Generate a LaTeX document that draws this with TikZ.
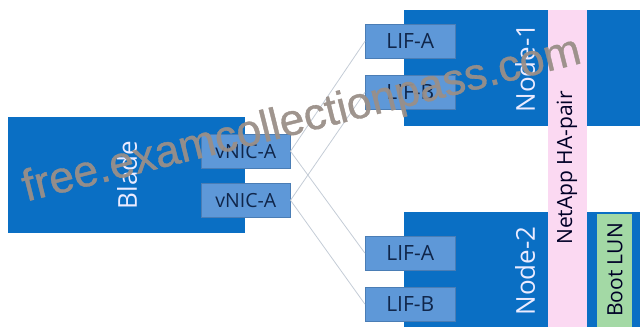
\documentclass[tikz,border=0pt]{standalone}
\usepackage{fontspec}
\setmainfont{Open Sans}
\newfontfamily\wmfont[FakeBold=0.8]{Liberation Sans}
\definecolor{bladeblue}{HTML}{0A6FC4}
\definecolor{lifblue}{HTML}{5E98D8}
\definecolor{lifedge}{HTML}{4A7DB5}
\definecolor{hapink}{HTML}{FBD9F2}
\definecolor{bootgreen}{HTML}{A3D9A5}
\definecolor{linkgrey}{HTML}{C4CCD6}
\definecolor{inkdark}{HTML}{10264A}
\definecolor{wmgrey}{HTML}{9A8F88}
\tikzset{
  block/.style={fill=bladeblue,draw=none,inner sep=0pt,minimum width=0pt,anchor=north west},
  portbox/.style={fill=lifblue,draw=lifedge,line width=0.5pt,inner sep=0pt,text=inkdark,font=\fontsize{21}{24}\selectfont,anchor=north west},
  vnicbox/.style={portbox,font=\fontsize{19.5}{22}\selectfont},
  blocklabel/.style={rotate=90,text=white!92!blue,font=\fontsize{26}{30}\selectfont,inner sep=0pt},
  striplabel/.style={rotate=90,text=black!85!blue,font=\fontsize{21}{24}\selectfont,inner sep=0pt},
  link/.style={draw=linkgrey,line width=0.8pt},
  watermark/.style={rotate=14,text=wmgrey,opacity=0.95,font=\wmfont\fontsize{44.5}{48}\selectfont,inner sep=0pt}
}
\begin{document}
\begin{tikzpicture}[x=1pt,y=-1pt]
\useasboundingbox (0,0) rectangle (640,327);
\node[block,minimum width=237pt,minimum height=116pt] (blade) at (8,117) {};
\node[block,minimum width=144pt,minimum height=116pt] (node1) at (404,10) {};
\node[block,minimum width=144pt,minimum height=115pt] (node2) at (404,212) {};
\node[block,minimum width=53pt,minimum height=116pt] (peer1) at (587,10) {};
\node[block,minimum width=53pt,minimum height=115pt] (peer2) at (587,212) {};
\node[block,fill=hapink,minimum width=39pt,minimum height=317pt] (ha) at (548,10) {};
\node[block,fill=bootgreen,minimum width=35pt,minimum height=113pt] (boot) at (597,214) {};
\node[vnicbox,minimum width=89pt,minimum height=34pt] (vnic1) at (201,134) {vNIC-A};
\node[vnicbox,minimum width=89pt,minimum height=34pt] (vnic2) at (201,183) {vNIC-A};
\node[portbox,minimum width=90pt,minimum height=34pt] (lif1a) at (365,24) {LIF-A};
\node[portbox,minimum width=90pt,minimum height=34pt] (lif1b) at (365,75) {LIF-B};
\node[portbox,minimum width=90pt,minimum height=34pt] (lif2a) at (365,236) {LIF-A};
\node[portbox,minimum width=90pt,minimum height=34pt] (lif2b) at (365,287) {LIF-B};
\draw[link] (vnic1.east) -- (lif1a.west);
\draw[link] (vnic1.east) -- (lif2a.west);
\draw[link] (vnic2.east) -- (lif1b.west);
\draw[link] (vnic2.east) -- (lif2b.west);
\node[blocklabel] (bladelabel) at (127,175) {Blade};
\node[blocklabel] (n1label) at (525,68) {Node-1};
\node[blocklabel] (n2label) at (525,271) {Node-2};
\node[striplabel] (halabel) at (567,168) {NetApp HA-pair};
\node[striplabel] (bootlabel) at (615,270) {Boot LUN};
\node[watermark] (wm) at (302,121) {free.examcollectionpass.com};
\end{tikzpicture}
\end{document}
